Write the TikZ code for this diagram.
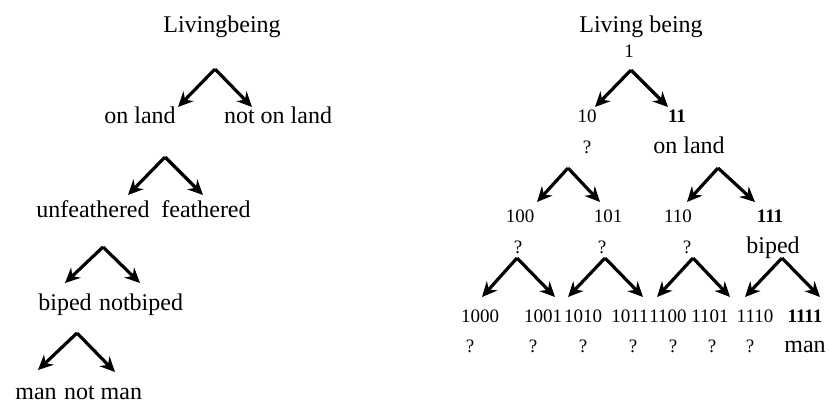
\documentclass[tikz,border=0pt]{standalone}
\usepackage{fontspec}
\setmainfont{Liberation Serif}
\usetikzlibrary{arrows.meta}

\begin{document}
\begin{tikzpicture}[x=0.5pt,y=-0.5pt,
  every node/.style={font=\fontsize{12}{14}\selectfont,inner sep=0pt,
    text height=8pt,text depth=2.5pt},
  numlabel/.style={font=\fontsize{9.5}{11}\selectfont},
  fork/.style={line width=1.6pt,-{Stealth[length=7.5pt,width=7pt]}}]
  \useasboundingbox (0,0) rectangle (829,404);
  % Left tree: plain labels
  \node (lroot) at (222,27) {Livingbeing};
  \node (lland) at (140,118) {on land};
  \node (lnotland) at (278,118) {not on land};
  \node (lunfeath) at (93,212) {unfeathered};
  \node (lfeath) at (206,212) {feathered};
  \node (lbiped) at (65,305) {biped};
  \node (lnotbiped) at (141,305) {notbiped};
  \node (lman) at (36,394) {man};
  \node (lnotman) at (103,394) {not man};
  % Right tree: codes and answers
  \node (rroot) at (641,27) {Living being};
  \node[numlabel] (c1) at (629,52) {1};
  \node[numlabel] (c10) at (587,117) {10};
  \node[numlabel] (c11) at (677,117) {\textbf{11}};
  \node[numlabel] (q10) at (587,148) {?};
  \node (a11) at (689,148) {on land};
  \foreach \nm/\xk in {100/520,101/608,110/678}{
    \node[numlabel] (c\nm) at (\xk,217) {\nm};
  }
  \node[numlabel] (c111) at (770,217) {\textbf{111}};
  \foreach \nm/\xk in {100/518,101/602,110/687}{
    \node[numlabel] (q\nm) at (\xk,248) {?};
  }
  \node (a111) at (773,248) {biped};
  \foreach \nm/\xk in {1000/480,1001/543,1010/583,1011/630,1100/668,1101/710,1110/755}{
    \node[numlabel] (c\nm) at (\xk,317) {\nm};
  }
  \node[numlabel] (c1111) at (805,317) {\textbf{1111}};
  \foreach \nm/\xk in {1000/470,1001/533,1010/583,1011/633,1100/673,1101/712,1110/750}{
    \node[numlabel] (q\nm) at (\xk,347) {?};
  }
  \node (a1111) at (805,347) {man};
  % Forks: apex, left tip, right tip
  \foreach \ax/\ay/\lx/\ly/\rx/\ry [count=\k] in {
    215/69/178/107/252/107, 165/157/128/195/203/195,
    103/247/65/283/140/283, 77/333/38/370/115/372,
    631/70/595/107/668/107, 568/168/537/202/600/202,
    718/168/687/202/755/202, 517/258/482/297/555/297,
    605/258/568/297/643/297, 693/258/657/297/730/297,
    782/258/745/297/820/297}{
    \coordinate (apex\k) at (\ax,\ay);
    \coordinate (tipl\k) at (\lx,\ly);
    \coordinate (tipr\k) at (\rx,\ry);
    \draw[fork] (apex\k) -- (tipl\k);
    \draw[fork] (apex\k) -- (tipr\k);
  }
\end{tikzpicture}
\end{document}
